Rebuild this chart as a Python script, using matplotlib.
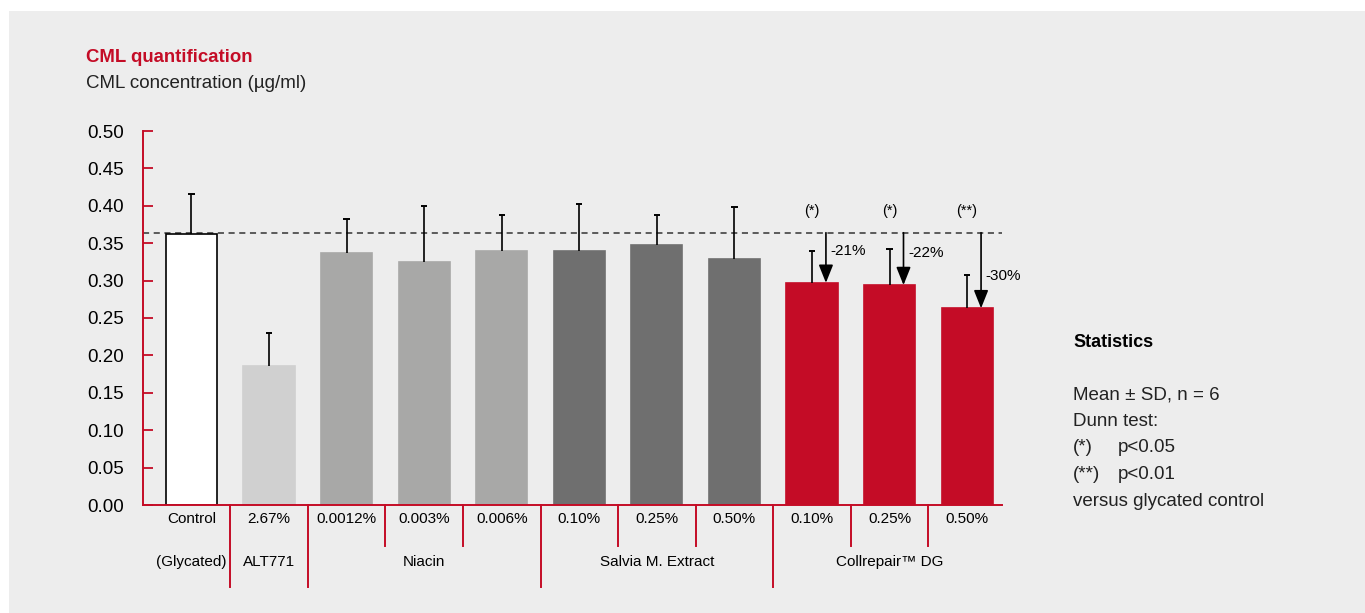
import matplotlib
matplotlib.use("Agg")
import matplotlib.pyplot as plt
from matplotlib.patches import Rectangle

plt.rcParams['font.family'] = ['Liberation Sans', 'DejaVu Sans']

# --Datos
dose_labels = ["Control", "2.67%", "0.0012%", "0.003%", "0.006%",
               "0.10%", "0.25%", "0.50%", "0.10%", "0.25%", "0.50%"]
groups = ["(Glycated)", "ALT771", "Niacin", "Salvia M. Extract", "Collrepair™ DG"]
group_sizes = [1, 1, 3, 3, 3]
means = [0.362, 0.186, 0.337, 0.325, 0.340, 0.340, 0.348, 0.329, 0.297, 0.294, 0.263]
sd = [0.054, 0.044, 0.045, 0.075, 0.048, 0.062, 0.040, 0.069, 0.042, 0.048, 0.044]
control_level = 0.364
sig_bars = [8, 9, 10]
sig_marks = ["(*)", "(*)", "(**)"]
changes = ["-21%", "-22%", "-30%"]
yticks = [0.00, 0.05, 0.10, 0.15, 0.20, 0.25, 0.30, 0.35, 0.40, 0.45, 0.50]

RED = "#c40c26"
group_colors = ["white", "#d0d0d0", "#a8a8a7", "#6f6f6f", RED]
colors = []
for c, n in zip(group_colors, group_sizes):
    colors += [c] * n
edges = ["black"] + colors[1:]

# --Figura
fig = plt.figure(figsize=(13.65, 6.13), dpi=100, facecolor="white")
fig.patches.append(Rectangle((9 / 1365, 0), 1, 602 / 613, transform=fig.transFigure,
                             facecolor="#ededed", edgecolor="none", zorder=-10))
ax = fig.add_axes([143 / 1365, 1 - 505 / 613, (1002 - 143) / 1365, 374 / 613])
ax.set_facecolor("none")

x = list(range(len(means)))
ax.bar(x, means, width=0.66, color=colors, edgecolor=edges, linewidth=1.2, zorder=2)
# --Solo barra de error superior
tops = [m + s for m, s in zip(means, sd)]
ax.vlines(x, means, tops, color="black", lw=1.2, zorder=3)
ax.hlines(tops, [i - 0.04 for i in x], [i + 0.04 for i in x], color="black", lw=1.4, zorder=3)
ax.axhline(control_level, color="#333333", lw=1.1, ls=(0, (4, 3)), zorder=1)

ax.set_xlim(-0.625, 10.45)
ax.set_ylim(0, 0.5)
ax.set_yticks(yticks)
ax.set_yticklabels([f"{v:.2f}" for v in yticks], fontsize=13.5)
ax.tick_params(axis="y", direction="in", color=RED, length=7, width=1.3, pad=13.5)
ax.set_xticks([])
for s in ["top", "right"]:
    ax.spines[s].set_visible(False)
for s in ["left", "bottom"]:
    ax.spines[s].set_color(RED)
    ax.spines[s].set_linewidth(1.4)

# --Etiquetas del eje x con corchetes
tr = ax.get_xaxis_transform()
for i, lab in enumerate(dose_labels):
    ax.text(i, -0.037, lab, transform=tr, ha="center", va="center", fontsize=11)
start = 0
for g, n in zip(groups, group_sizes):
    ax.text(start + (n - 1) / 2, -0.152, g, transform=tr, ha="center", va="center", fontsize=11)
    end = start + n
    if end < len(means):
        ax.plot([end - 0.5, end - 0.5], [0, -0.219], transform=tr, color=RED,
                lw=1.4, clip_on=False)
    for k in range(start + 1, end):
        ax.plot([k - 0.5, k - 0.5], [0, -0.109], transform=tr, color=RED,
                lw=1.4, clip_on=False)
    start = end

# --Flechas de reduccion
for b, mark, ch in zip(sig_bars, sig_marks, changes):
    ax.text(b, 0.393, mark, ha="center", va="center", fontsize=10.5)
    ax.annotate("", xy=(b + 0.18, means[b]), xytext=(b + 0.18, control_level),
                arrowprops=dict(arrowstyle="-|>,head_length=0.55,head_width=0.22",
                                mutation_scale=20, color="black", lw=1.2,
                                shrinkA=0, shrinkB=0), zorder=4)
    ax.text(b + 0.24, means[b] + 0.043, ch, ha="left", va="center", fontsize=11)

# --Titulos
fig.text(86 / 1365, 1 - 62 / 613, "CML quantification", color=RED, fontsize=13.4,
         fontweight="bold", ha="left", va="baseline")
fig.text(86 / 1365, 1 - 88 / 613, "CML concentration (µg/ml)", fontsize=13.5,
         ha="left", va="baseline", color="#222222")

# --Estadistica
sx = 1073 / 1365
fig.text(sx, 1 - 347 / 613, "Statistics", fontsize=13, fontweight="bold", va="baseline")
stats = [("Mean ± SD, n = 6", ""), ("Dunn test:", ""), ("(*)", "p<0.05"),
         ("(**)", "p<0.01"), ("versus glycated control", "")]
for j, (a, b) in enumerate(stats):
    yy = 1 - (399 + 26.7 * j) / 613
    fig.text(sx, yy, a, fontsize=13.5, va="baseline", color="#222222")
    if b:
        fig.text(1118 / 1365, yy, b, fontsize=13.5, va="baseline", color="#222222")

fig.savefig("out.png", dpi=100, facecolor="white")
